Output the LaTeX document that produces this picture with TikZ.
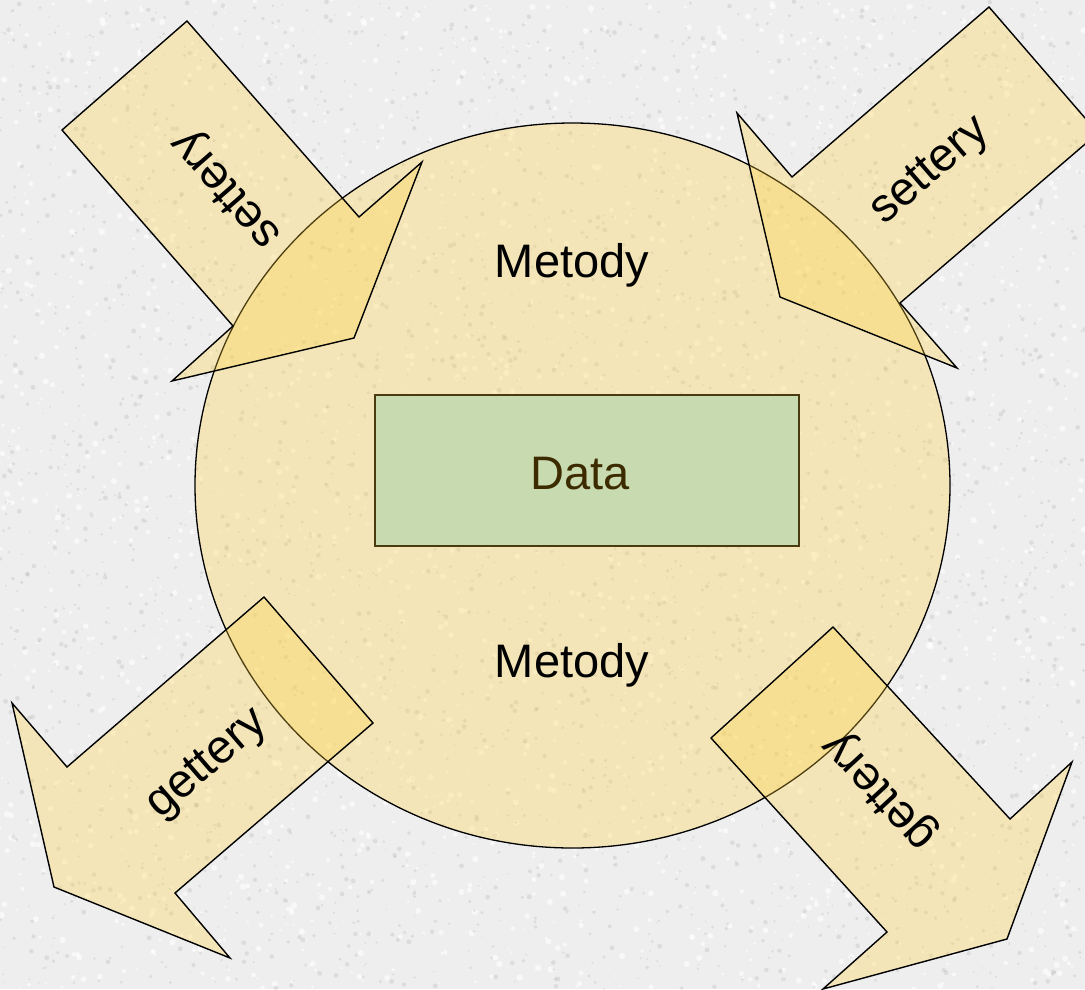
\documentclass[tikz,border=0pt]{standalone}
\usepackage{fontspec}
\setmainfont{Liberation Sans}
\begin{document}
\begin{tikzpicture}[x=1pt,y=-1pt,
  shape fill/.style={fill={rgb,255:red,255;green,210;blue,60}, fill opacity=0.30},
  blockarrow/.style={shape fill, draw=black, line width=1.4pt, line join=miter},
  bigtext/.style={font=\fontsize{47}{56}\selectfont, text=black, inner sep=0pt}]
  \definecolor{bggray}{RGB}{238,238,238}
  \definecolor{datafill}{RGB}{200,218,176}
  \definecolor{databorder}{RGB}{74,58,16}
  \definecolor{datatext}{RGB}{61,43,0}
  \useasboundingbox (0,0) rectangle (1085,989);
  \begin{scope}
  \clip (0,0) rectangle (1085,989);
  % granite-like backdrop
  \fill[bggray] (0,0) rectangle (1085,989);
  \pgfmathsetseed{42}
  \foreach \i in {1,...,2200}{
    \fill[white, opacity=0.6] ({rnd*1085},{rnd*989}) circle ({1+rnd*2.2});
  }
  \foreach \i in {1,...,3200}{
    \fill[gray, opacity=0.16] ({rnd*1085},{rnd*989}) circle ({0.7+rnd*1.8});
  }
  % the object
  \filldraw[shape fill, draw=black, line width=1.3pt] (572.5,485.5) ellipse (377.5 and 362.5);
  % setter arrows pointing in
  \draw[blockarrow] (187,21) -- (359,217) -- (422,162) -- (354,338) -- (172,381) -- (233,326) -- (62,130) -- cycle;
  \draw[blockarrow] (989,7) -- (1098,133) -- (900,303) -- (957,368) -- (780,297) -- (737,113) -- (792,177) -- cycle;
  % getter arrows pointing out
  \draw[blockarrow] (264,597) -- (373,723) -- (175,893) -- (230,958) -- (54,887) -- (12,703) -- (67,767) -- cycle;
  \draw[blockarrow] (833,627) -- (711,738) -- (887,932) -- (823,989) -- (1007,939) -- (1072,762) -- (1010,819) -- cycle;
  \end{scope}
  % data block
  \node[draw=databorder, line width=1.3pt, fill=datafill, minimum width=424pt, minimum height=151pt, inner sep=0pt]
    (data) at (587,470.5) {};
  \node[bigtext, text=datatext, anchor=base] (datalabel) at (580.5,489) {Data};
  % method labels
  \node[bigtext, anchor=base] (mtop) at (572,277) {Metody};
  \node[bigtext, anchor=base] (mbottom) at (572,677) {Metody};
  % arrow labels
  \node[bigtext, rotate=131] (set1) at (228,188) {settery};
  \node[bigtext, rotate=40.8] (set2) at (931,172) {settery};
  \node[bigtext, rotate=40.8] (get1) at (208,765) {gettery};
  \node[bigtext, rotate=132.7] (get2) at (881,790) {gettery};
\end{tikzpicture}
\end{document}
